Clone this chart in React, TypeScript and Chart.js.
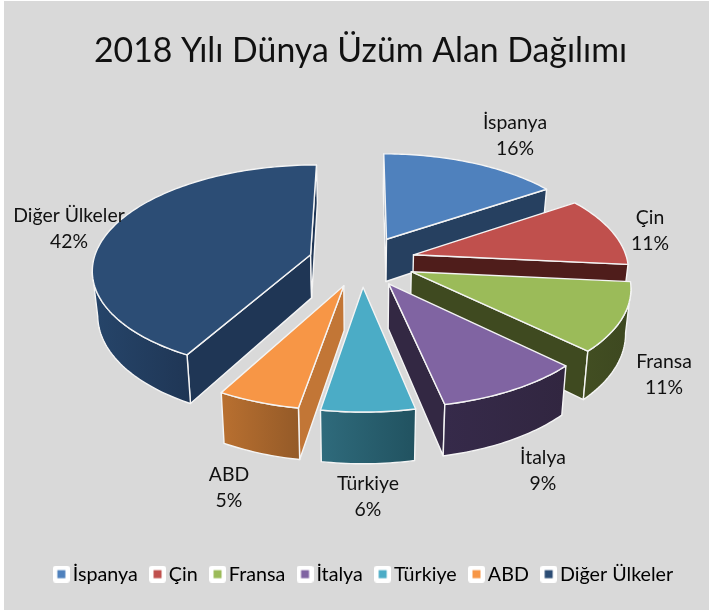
import React, { useEffect, useRef } from "react";
import { Chart, registerables } from "chart.js";

Chart.register(...registerables);

const TITLE = "2018 Yılı Dünya Üzüm Alan Dağılımı";
const categories = ["İspanya", "Çin", "Fransa", "İtalya", "Türkiye", "ABD", "Diğer Ülkeler"];
const shares = [15.6, 10.9, 10.7, 9.49, 6.0, 5.31, 42];

const topColors = ["#4f81bd", "#c0504d", "#9bbb59", "#8064a2", "#4bacc6", "#f79646", "#2c4d75"];
const radialColors = ["#264060", "#4f1d1b", "#3f4a20", "#332843", "#27606f", "#c27636", "#1f3655"];
const rimLeftColors = ["#264060", "#4f1d1b", "#424e22", "#362a4a", "#2f6b7c", "#b97030", "#26456a"];
const rimRightColors = ["#264060", "#4f1d1b", "#3d4820", "#312640", "#215260", "#945a28", "#1f3655"];
const sliceRadius = [1, 1, 1, 1, 1, 1, 1.015];
const drawOrder = [0, 6, 1, 2, 5, 3, 4];

const labelX = [515, 650, 664, 543, 368, 229, 69];
const labelY = [123, 218, 362, 458, 484, 475, 216];

const FONT = "Lato, Carlito, Calibri, sans-serif";
const CX = 362, CY = 261, AX = 214, BY = 101.5, PERSP = 0.128, DEPTH = 43.5, EXPLODE = 0.25, BOTTOM_SCALE = 0.98;

type P = { x: number; y: number };

function project(u: number, v: number, bottom: boolean): P {
  const w = 1 / (1 - PERSP * v);
  const x = CX + AX * u * w;
  const y = CY + BY * v * w;
  return bottom ? { x: CX + (x - CX) * BOTTOM_SCALE, y: y + DEPTH * w } : { x, y };
}

function poly(ctx: CanvasRenderingContext2D, pts: P[]) {
  ctx.beginPath();
  pts.forEach((p, i) => (i ? ctx.lineTo(p.x, p.y) : ctx.moveTo(p.x, p.y)));
  ctx.closePath();
}

function drawSlice(ctx: CanvasRenderingContext2D, a0: number, a1: number, i: number) {
  const mid = (a0 + a1) / 2;
  const R = sliceRadius[i];
  const ou = EXPLODE * Math.sin(mid), ov = -EXPLODE * Math.cos(mid);
  const pt = (t: number, bottom: boolean) => project(ou + R * Math.sin(t), ov - R * Math.cos(t), bottom);
  const apexT = project(ou, ov, false), apexB = project(ou, ov, true);
  const n = Math.max(6, Math.ceil((a1 - a0) / 0.02));
  const ts = Array.from({ length: n + 1 }, (_, k) => a0 + ((a1 - a0) * k) / n);

  ctx.lineJoin = "round";
  ctx.strokeStyle = "#f4f4f4";
  ctx.lineWidth = 1.4;

  const face = (t: number) => {
    poly(ctx, [apexT, pt(t, false), pt(t, true), apexB]);
    ctx.fillStyle = radialColors[i];
    ctx.fill();
    ctx.stroke();
  };
  if (pt(a0, false).x < apexT.x) face(a0);
  if (pt(a1, false).x > apexT.x) face(a1);

  // rim: only the part whose top edge runs leftwards as the angle grows
  const vis: number[] = [];
  for (let k = 0; k < n; k++) {
    if (pt(ts[k + 1], false).x < pt(ts[k], false).x) {
      if (!vis.length) vis.push(ts[k]);
      vis.push(ts[k + 1]);
    }
  }
  if (vis.length > 1) {
    const top = vis.map((t) => pt(t, false));
    const bot = vis.map((t) => pt(t, true)).reverse();
    const all = [...top, ...bot];
    const xs = all.map((p) => p.x);
    const g = ctx.createLinearGradient(Math.min(...xs), 0, Math.max(...xs), 0);
    g.addColorStop(0, rimLeftColors[i]);
    g.addColorStop(1, rimRightColors[i]);
    poly(ctx, all);
    ctx.fillStyle = g;
    ctx.fill();
    ctx.stroke();
  }

  poly(ctx, [apexT, ...ts.map((t) => pt(t, false))]);
  ctx.fillStyle = topColors[i];
  ctx.fill();
  ctx.stroke();
}

const pie3d = {
  id: "pie3d",
  afterLayout(chart: any) {
    chart.legend.left += 6;
    chart.legend.right += 6;
  },
  beforeDraw(chart: any) {
    const ctx = chart.ctx;
    ctx.save();
    ctx.fillStyle = "#ffffff";
    ctx.fillRect(0, 0, chart.width, chart.height);
    ctx.fillStyle = "#d9d9d9";
    ctx.fillRect(4, 1, chart.width - 4, chart.height - 3);
    ctx.restore();
  },
  beforeDatasetDraw(chart: any) {
    const ctx = chart.ctx;
    const arcs = chart.getDatasetMeta(0).data;
    ctx.save();
    drawOrder.forEach((i) => {
      drawSlice(ctx, arcs[i].startAngle + Math.PI / 2, arcs[i].endAngle + Math.PI / 2, i);
    });
    ctx.fillStyle = "#111111";
    ctx.font = `19.4px ${FONT}`;
    ctx.textAlign = "center";
    ctx.textBaseline = "middle";
    categories.forEach((c, i) => {
      ctx.fillText(c, labelX[i], labelY[i]);
      ctx.fillText(`${Math.round(shares[i])}%`, labelX[i], labelY[i] + 26);
    });
    ctx.restore();
    return false;
  },
};

function legendMarker(color: string) {
  const c = document.createElement("canvas");
  c.width = 17;
  c.height = 17;
  const g = c.getContext("2d")!;
  g.fillStyle = "#ffffff";
  g.beginPath();
  g.roundRect(0, 0, 17, 17, 3);
  g.fill();
  g.fillStyle = color;
  g.fillRect(4.5, 4.5, 8, 8);
  return c;
}

export default function App() {
  const ref = useRef<HTMLCanvasElement>(null);
  useEffect(() => {
    const markers = topColors.map(legendMarker);
    const chart = new Chart(ref.current!, {
      type: "pie",
      data: {
        labels: categories,
        datasets: [{ data: shares, backgroundColor: topColors }],
      },
      plugins: [pie3d],
      options: {
        responsive: false,
        animation: false,
        layout: { padding: { left: 12, bottom: 18 } },
        plugins: {
          tooltip: { enabled: false },
          title: {
            display: true,
            text: TITLE,
            color: "#111111",
            font: { family: FONT, size: 33.8, weight: "normal", lineHeight: 1.2 },
            padding: { top: 31, bottom: 10 },
          },
          legend: {
            position: "bottom",
            labels: {
              font: { family: FONT, size: 19.7 },
              color: "#111111",
              usePointStyle: true,
              pointStyleWidth: 3,
              padding: 18.3,
              generateLabels: () =>
                categories.map((text, index) => ({
                  text,
                  index,
                  pointStyle: markers[index],
                  fillStyle: topColors[index],
                  strokeStyle: "transparent",
                  lineWidth: 0,
                  hidden: false,
                })),
            },
          },
        },
      },
    } as any);
    return () => chart.destroy();
  }, []);
  return (
    <div style={{ position: "fixed", left: 0, top: 0, width: 709, height: 612 }}>
      <canvas ref={ref} width={709} height={612} style={{ display: "block" }} />
    </div>
  );
}
